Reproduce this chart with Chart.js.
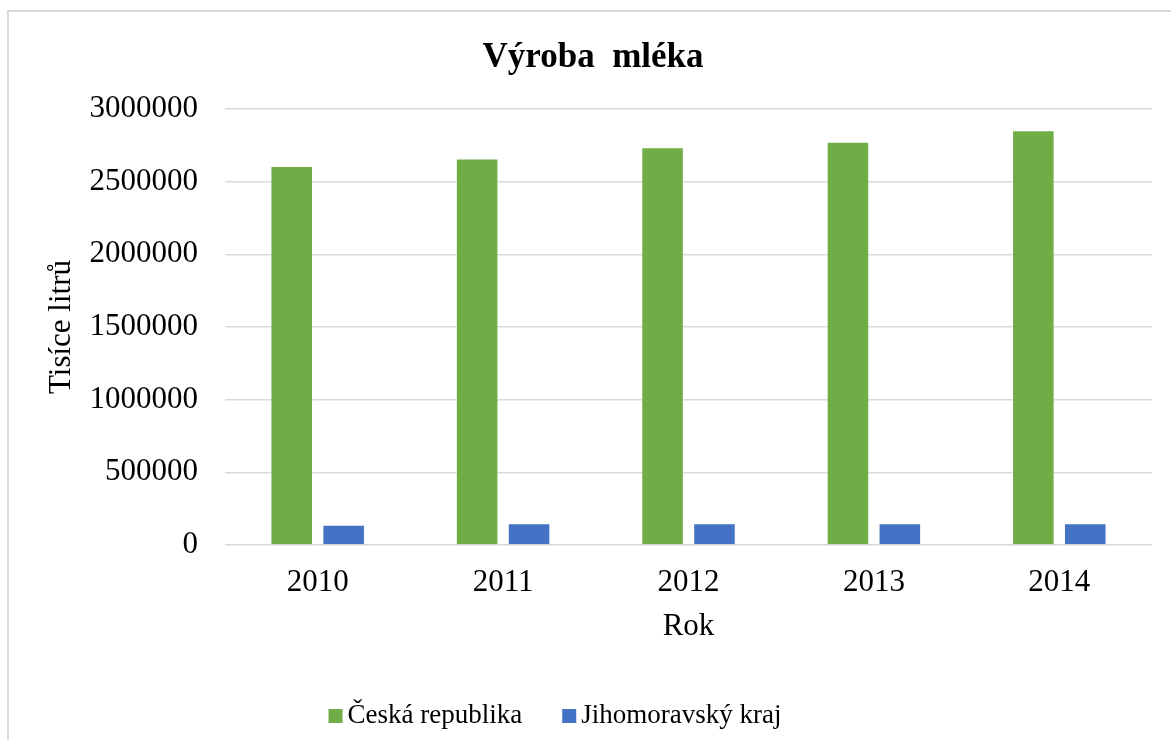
<!DOCTYPE html>
<html>
<head>
<meta charset="utf-8">
<script src="https://cdn.jsdelivr.net/npm/chart.js@4"></script>
<style>
    html, body { margin: 0; padding: 0; background: #fff; overflow: hidden; }
    .wrap { position: relative; width: 1171px; height: 740px; }
    .frame {
        position: absolute; left: 7px; top: 10px; right: -5px; bottom: -5px;
        border-top: 2px solid #d9d9d9; border-left: 2px solid #d9d9d9;
    }
    canvas { position: absolute; left: 0; top: 0; }
</style>
</head>
<body>
<div class="wrap">
    <div class="frame"></div>
    <canvas id="milkChart" width="1171" height="740"></canvas>
</div>
<script>
const years = ['2010', '2011', '2012', '2013', '2014'];
const ceskaRepublika = [2607000, 2660000, 2737000, 2774000, 2854000];
const jihomoravskyKraj = [140000, 149000, 149000, 149000, 149000];
const yTicks = [0, 500000, 1000000, 1500000, 2000000, 2500000, 3000000];

const serif = "'Liberation Serif', 'Times New Roman', serif";

// Excel-like legend: small square, tight gap to text, centred under the plot
const bottomLegend = {
    id: 'bottomLegend',
    afterDraw(chart) {
        const ctx = chart.ctx;
        const box = 14, textGap = 5, itemGap = 40, centerX = 555, baseline = 723;
        ctx.save();
        ctx.font = '27px ' + serif;
        ctx.textBaseline = 'alphabetic';
        ctx.textAlign = 'left';
        const items = chart.data.datasets.map(ds => ({
            text: ds.label,
            color: ds.backgroundColor,
            width: box + textGap + ctx.measureText(ds.label).width
        }));
        const total = items.reduce((s, it) => s + it.width, 0) + itemGap * (items.length - 1);
        let x = centerX - total / 2;
        items.forEach(it => {
            ctx.fillStyle = it.color;
            ctx.fillRect(x, baseline - box, box, box);
            ctx.fillStyle = '#000';
            ctx.fillText(it.text, x + box + textGap, baseline);
            x += it.width + itemGap;
        });
        ctx.restore();
    }
};

document.addEventListener('DOMContentLoaded', function() {
    const ctx = document.getElementById('milkChart').getContext('2d');
    window.milkChart = new Chart(ctx, {
        type: 'bar',
        data: {
            labels: years,
            datasets: [{
                label: 'Česká republika',
                data: ceskaRepublika,
                backgroundColor: '#70ad47',
                borderColor: 'rgba(255,255,255,0.45)',
                borderWidth: 1
            }, {
                label: 'Jihomoravský kraj',
                data: jihomoravskyKraj,
                backgroundColor: '#4472c4',
                borderColor: 'rgba(255,255,255,0.45)',
                borderWidth: 1
            }]
        },
        options: {
            responsive: false,
            animation: false,
            datasets: {
                bar: {
                    categoryPercentage: 0.56,
                    barPercentage: 0.82
                }
            },
            layout: {
                padding: { left: 34, right: 19, top: 20, bottom: 95 }
            },
            plugins: {
                title: {
                    display: true,
                    text: 'Výroba  mléka',
                    color: '#000',
                    font: { family: serif, size: 35, weight: 'bold' },
                    padding: { top: 17, bottom: 30 }
                },
                legend: { display: false },
                tooltip: { enabled: false }
            },
            scales: {
                x: {
                    afterFit: function(scale) {
                        scale.height = 100;
                    },
                    grid: { display: false },
                    border: { display: false },
                    ticks: {
                        color: '#000',
                        font: { family: serif, size: 31 },
                        padding: 11
                    },
                    title: {
                        display: true,
                        text: 'Rok',
                        color: '#000',
                        font: { family: serif, size: 31 },
                        padding: { top: 0, bottom: 0 }
                    }
                },
                y: {
                    min: 0,
                    max: 3000000,
                    afterBuildTicks: function(scale) {
                        scale.ticks = yTicks.map(v => ({ value: v }));
                    },
                    afterFit: function(scale) {
                        scale.width = 191;
                    },
                    grid: {
                        color: '#d9d9d9',
                        lineWidth: 1.5,
                        drawTicks: false
                    },
                    border: { display: false },
                    ticks: {
                        color: '#000',
                        font: { family: serif, size: 31 },
                        padding: 27,
                        callback: value => String(value)
                    },
                    title: {
                        display: true,
                        text: 'Tisíce litrů',
                        color: '#000',
                        font: { family: serif, size: 31 },
                        padding: { top: 9, bottom: 0 }
                    }
                }
            }
        },
        plugins: [bottomLegend]
    });
});
</script>
</body>
</html>
